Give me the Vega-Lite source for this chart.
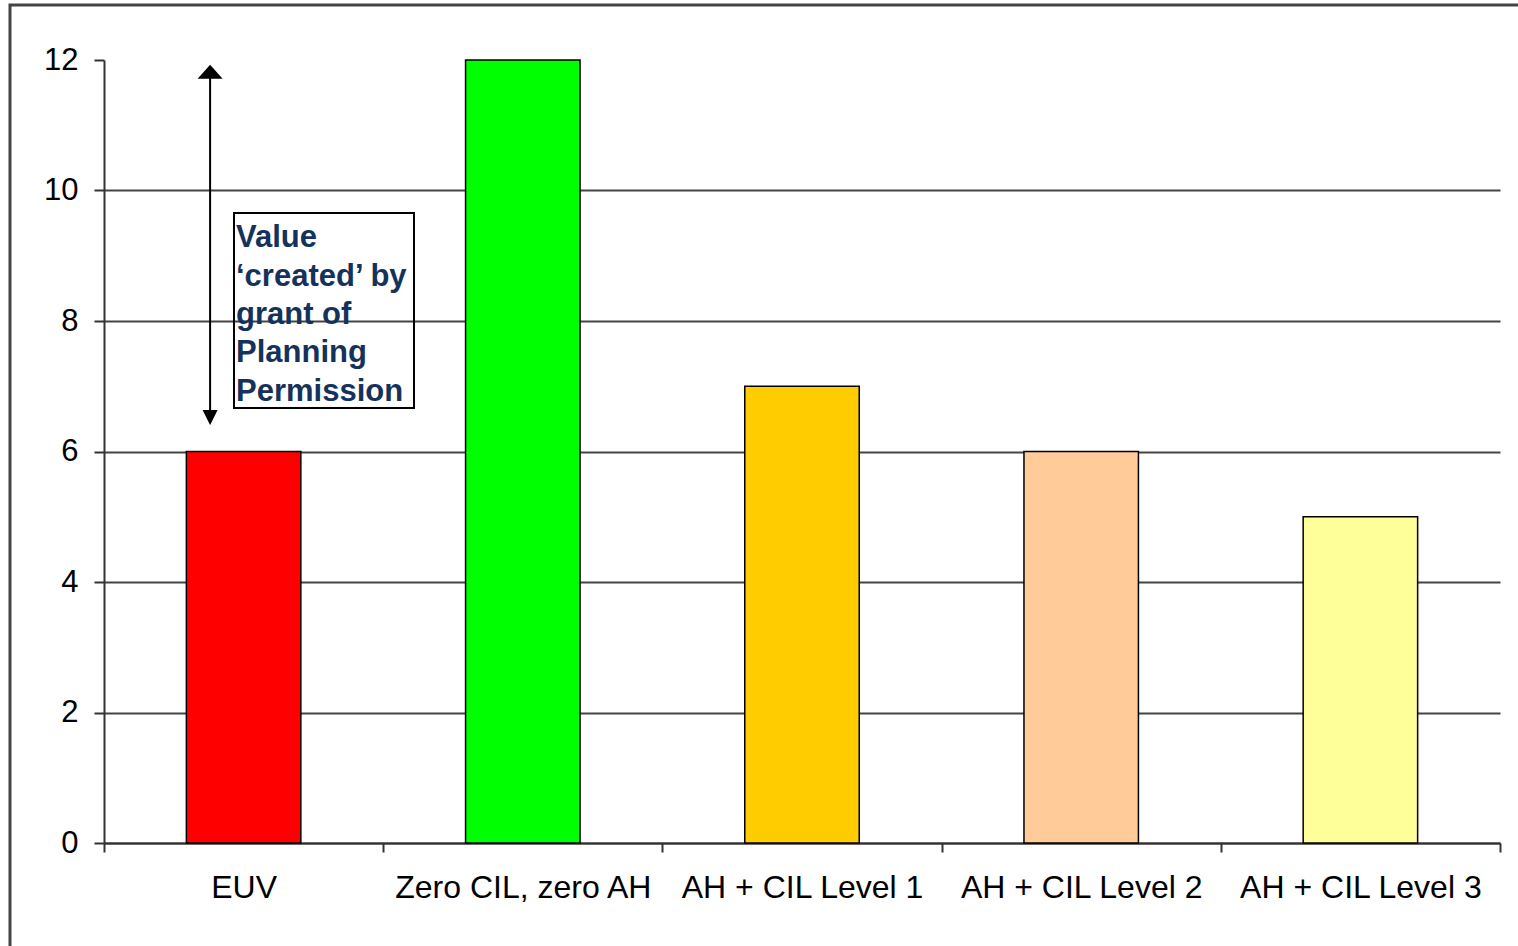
{
  "$schema": "https://vega.github.io/schema/vega-lite/v6.json",
  "width": 1396,
  "height": 783,
  "autosize": {"type": "none"},
  "padding": {"left": 104, "top": 60, "right": 18, "bottom": 103},
  "background": "white",
  "config": {"view": {"stroke": null}, "font": "Liberation Sans"},
  "datasets": {
    "bars": [
      {"category": "EUV", "value": 6},
      {"category": "Zero CIL, zero AH", "value": 12},
      {"category": "AH + CIL Level 1", "value": 7},
      {"category": "AH + CIL Level 2", "value": 6},
      {"category": "AH + CIL Level 3", "value": 5}
    ],
    "arrow": [{"pos": 0.38, "y": 6.6, "y2": 11.75}],
    "heads": [
      {"pos": 0.38, "y": 11.82, "dir": "up"},
      {"pos": 0.38, "y": 6.52, "dir": "down"}
    ],
    "box": [{"x": 0.4656, "x2": 1.1103, "y": 9.655, "y2": 6.667}],
    "boxText": [
      {"x": 0.4728, "y": 9.134, "line": "Value"},
      {"x": 0.4728, "y": 8.544, "line": "‘created’ by"},
      {"x": 0.4728, "y": 7.954, "line": "grant of"},
      {"x": 0.4728, "y": 7.364, "line": "Planning"},
      {"x": 0.4728, "y": 6.774, "line": "Permission"}
    ],
    "frame": [{"x": -0.3367, "x2": 5.3, "y": 12.843, "y2": -3}]
  },
  "layer": [
    {
      "data": {"name": "bars"},
      "mark": {"type": "bar", "width": {"band": 0.41}, "stroke": "black", "strokeWidth": 1.5},
      "encoding": {
        "x": {
          "field": "category", "type": "nominal", "sort": null,
          "scale": {"paddingInner": 0, "paddingOuter": 0},
          "axis": {
            "title": null, "labelAngle": 0, "labelFontSize": 32, "labelColor": "black",
            "labelLimit": 500, "tickBand": "extent", "tickSize": 9, "labelPadding": 20,
            "domainColor": "#333", "domainWidth": 2, "tickColor": "#333", "tickWidth": 2,
            "grid": false, "labelFont": "Liberation Sans"
          }
        },
        "y": {
          "field": "value", "type": "quantitative", "title": null,
          "scale": {"domain": [0, 12], "nice": false},
          "axis": {
            "title": null, "values": [0, 2, 4, 6, 8, 10, 12], "format": "d", "labelFontSize": 31,
            "labelColor": "black", "tickSize": 10, "labelPadding": 16,
            "domainColor": "#333", "domainWidth": 2, "tickColor": "#333", "tickWidth": 2,
            "grid": true, "gridColor": "#444", "gridWidth": 2,
            "gridOpacity": {"condition": {"test": "datum.value == 12", "value": 0}, "value": 1},
            "labelFont": "Liberation Sans"
          }
        },
        "color": {
          "field": "category", "type": "nominal",
          "scale": {
            "domain": ["EUV", "Zero CIL, zero AH", "AH + CIL Level 1", "AH + CIL Level 2", "AH + CIL Level 3"],
            "range": ["#FF0000", "#00FF00", "#FFCC00", "#FFCC99", "#FFFF99"]
          },
          "legend": null
        }
      }
    },
    {
      "data": {"name": "arrow"},
      "mark": {"type": "rule", "color": "black", "strokeWidth": 2},
      "encoding": {
        "x": {"field": "pos", "type": "quantitative", "scale": {"domain": [0, 5], "nice": false, "zero": false}, "axis": null},
        "y": {"field": "y", "type": "quantitative", "title": null},
        "y2": {"field": "y2"}
      }
    },
    {
      "data": {"name": "heads"},
      "transform": [{"filter": "datum.dir == 'up'"}],
      "mark": {"type": "point", "filled": true, "color": "black", "opacity": 1, "shape": "M -1 0.56 L 1 0.56 L 0 -0.56 Z", "size": 625},
      "encoding": {
        "x": {"field": "pos", "type": "quantitative", "scale": {"domain": [0, 5], "nice": false, "zero": false}, "axis": null},
        "y": {"field": "y", "type": "quantitative", "title": null}
      }
    },
    {
      "data": {"name": "heads"},
      "transform": [{"filter": "datum.dir == 'down'"}],
      "mark": {"type": "point", "filled": true, "color": "black", "opacity": 1, "shape": "M -1 -1 L 1 -1 L 0 1 Z", "size": 225},
      "encoding": {
        "x": {"field": "pos", "type": "quantitative", "scale": {"domain": [0, 5], "nice": false, "zero": false}, "axis": null},
        "y": {"field": "y", "type": "quantitative", "title": null}
      }
    },
    {
      "data": {"name": "box"},
      "mark": {"type": "rect", "filled": false, "stroke": "black", "strokeWidth": 2},
      "encoding": {
        "x": {"field": "x", "type": "quantitative", "scale": {"domain": [0, 5], "nice": false, "zero": false}, "axis": null},
        "x2": {"field": "x2"},
        "y": {"field": "y", "type": "quantitative", "title": null},
        "y2": {"field": "y2"}
      }
    },
    {
      "data": {"name": "boxText"},
      "mark": {"type": "text", "align": "left", "baseline": "alphabetic", "font": "Liberation Sans", "fontWeight": "bold", "fontSize": 31, "color": "#14325C"},
      "encoding": {
        "x": {"field": "x", "type": "quantitative", "scale": {"domain": [0, 5], "nice": false, "zero": false}, "axis": null},
        "y": {"field": "y", "type": "quantitative", "title": null},
        "text": {"field": "line"}
      }
    },
    {
      "data": {"name": "frame"},
      "mark": {"type": "rect", "filled": false, "stroke": "#444", "strokeWidth": 3},
      "encoding": {
        "x": {"field": "x", "type": "quantitative", "scale": {"domain": [0, 5], "nice": false, "zero": false}, "axis": null},
        "x2": {"field": "x2"},
        "y": {"field": "y", "type": "quantitative", "title": null},
        "y2": {"field": "y2"}
      }
    }
  ],
  "resolve": {"scale": {"x": "independent"}}
}
